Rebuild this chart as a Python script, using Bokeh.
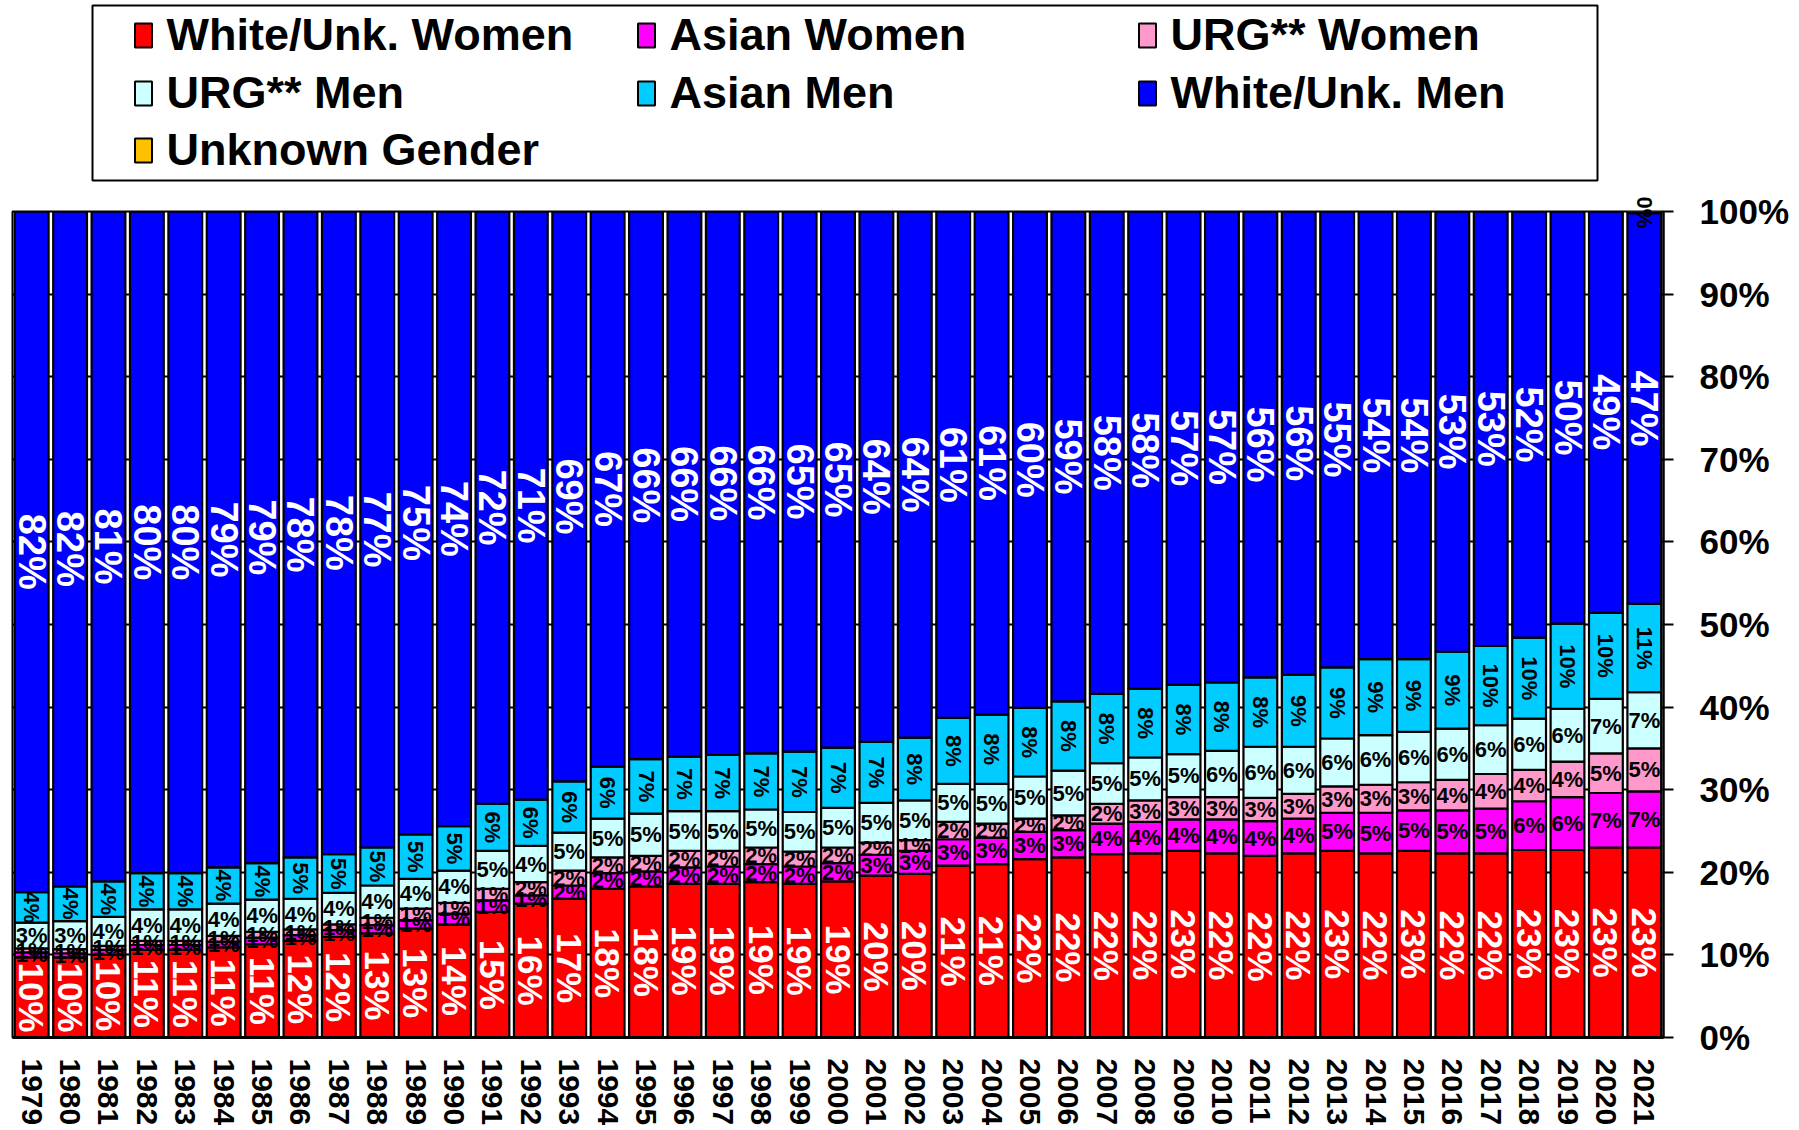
import math
from bokeh.plotting import figure
from bokeh.layouts import column
from bokeh.models import ColumnDataSource, FactorRange, Range1d, FixedTicker, PrintfTickFormatter
from bokeh.core.properties import value
from bokeh.embed import file_html
from bokeh.resources import INLINE

years = [str(y) for y in range(1979, 2022)]

white_unk_women = [9.7, 9.7, 10.0, 10.6, 10.6, 10.9, 11.3, 11.7, 12.2, 12.6, 13.2, 13.7, 15.2, 16.2, 16.8,
                   18.0, 18.3, 18.6, 18.6, 18.8, 18.6, 18.9, 19.6, 19.8, 20.8, 21.0, 21.6, 21.8, 22.2, 22.3,
                   22.6, 22.3, 22.0, 22.3, 22.6, 22.3, 22.6, 22.3, 22.3, 22.7, 22.7, 23.0, 23.0]
asian_women = [0.6, 0.5, 0.6, 0.6, 0.6, 0.7, 0.8, 0.7, 0.8, 1.0, 1.0, 1.3, 1.4, 1.0, 1.6,
               1.9, 1.8, 2.0, 2.1, 2.2, 2.1, 2.2, 2.5, 2.8, 3.2, 3.2, 3.3, 3.3, 3.7, 3.8,
               3.8, 4.1, 4.2, 4.2, 4.6, 4.9, 4.9, 5.2, 5.4, 5.9, 6.4, 6.6, 6.8]
urg_women = [0.5, 0.5, 0.5, 0.5, 0.5, 0.7, 0.7, 0.7, 0.7, 0.9, 1.4, 1.3, 1.4, 1.6, 1.8,
             1.9, 1.9, 2.0, 1.9, 2.0, 1.8, 1.9, 1.5, 1.3, 2.1, 1.7, 1.6, 1.8, 2.4, 2.6,
             2.7, 2.7, 2.8, 3.0, 3.2, 3.4, 3.4, 3.7, 4.2, 3.8, 4.3, 4.8, 5.2]
urg_men = [3.1, 3.4, 3.5, 3.8, 3.8, 3.9, 3.9, 3.7, 3.8, 3.9, 3.6, 3.9, 4.6, 4.4, 4.6,
           4.7, 5.1, 4.8, 4.8, 4.6, 4.8, 4.8, 4.8, 4.8, 4.6, 4.8, 5.1, 5.4, 4.9, 5.2,
           5.2, 5.6, 6.2, 5.7, 5.8, 6.0, 6.1, 6.2, 5.9, 6.2, 6.4, 6.6, 6.8]
asian_men = [3.7, 4.2, 4.3, 4.4, 4.4, 4.4, 4.4, 5.0, 4.7, 4.6, 5.4, 5.4, 5.7, 5.6, 6.2,
             6.3, 6.6, 6.6, 6.8, 6.8, 7.3, 7.3, 7.4, 7.6, 8.0, 8.4, 8.3, 8.4, 8.4, 8.3,
             8.4, 8.3, 8.4, 8.7, 8.6, 9.2, 8.8, 9.3, 9.6, 9.8, 10.3, 10.4, 10.7]
white_unk_men = [82.4, 81.7, 81.1, 80.1, 80.1, 79.4, 78.9, 78.2, 77.8, 77.0, 75.4, 74.4, 71.7, 71.2, 69.0,
                 67.2, 66.3, 66.0, 65.8, 65.6, 65.4, 64.9, 64.2, 63.7, 61.3, 60.9, 60.1, 59.3, 58.4, 57.8,
                 57.3, 57.0, 56.4, 56.1, 55.2, 54.2, 54.2, 53.3, 52.6, 51.6, 49.9, 48.6, 47.3]
unknown_gender = [0.0] * 42 + [0.2]

series_names = ["White/Unk. Women", "Asian Women", "URG** Women", "URG** Men",
                "Asian Men", "White/Unk. Men", "Unknown Gender"]
series_keys = ["ww", "aw", "uw", "um", "am", "wm", "unk"]
series_values = [white_unk_women, asian_women, urg_women, urg_men, asian_men, white_unk_men, unknown_gender]
colors = ["#FF0000", "#FF00FF", "#FF99CC", "#CCFFFF", "#00CCFF", "#0000FF", "#FFC000"]
y_ticks = [0, 10, 20, 30, 40, 50, 60, 70, 80, 90, 100]

FONT = value("Liberation Sans")

# label style per series: (rotated, colour, size)
label_styles = [(True, "white", "35px"), (False, "black", "22px"), (False, "black", "22px"),
                (False, "black", "22px"), (True, "black", "22px"), (True, "white", "38px"),
                (True, "black", "22px")]

# frame geometry (page pixels)
FL, FW = 12, 1651
RB = 132
LH = 185

# ---------------- legend figure ----------------
lf = figure(frame_width=FW, frame_height=LH, x_range=Range1d(FL, FL + FW), y_range=Range1d(LH, 0),
            x_axis_location=None, y_axis_location=None,
            min_border_left=FL, min_border_right=RB, min_border_top=0, min_border_bottom=0,
            output_backend="svg", toolbar_location=None)
lf.grid.grid_line_color = None
lf.outline_line_color = None
lf.quad(left=[92], right=[1597], top=[5], bottom=[180], fill_color="white",
        line_color="black", line_width=2)
col_text_x = [166, 669, 1170]
row_y = [34, 92, 149]
sw_x, sw_y, tx, ty = [], [], [], []
for i, name in enumerate(series_names):
    r, c = divmod(i, 3)
    sw_x.append(col_text_x[c] - 23)
    sw_y.append(row_y[r] + 1)
    tx.append(col_text_x[c])
    ty.append(row_y[r])
lf.rect(x=sw_x, y=sw_y, width=17, height=24, fill_color=colors, line_color="black", line_width=2)
lf.text(x=tx, y=ty, text=series_names, text_align="left", text_baseline="middle",
        text_font=FONT, text_font_style="bold", text_font_size="45px", text_color="black")

# ---------------- main figure ----------------
data = dict(year=years)
for k, v in zip(series_keys, series_values):
    data[k] = v
src = ColumnDataSource(data)

p = figure(x_range=FactorRange(factors=years, range_padding=0), y_range=Range1d(0, 100),
           frame_width=FW, frame_height=826, min_border_left=FL, min_border_right=RB,
           min_border_top=211 - LH, min_border_bottom=88, y_axis_location="right",
           output_backend="svg", toolbar_location=None)

p.vbar_stack(series_keys, x="year", width=0.88, source=src, fill_color=colors,
             line_color="black", line_width=2.2)

bottom = [0.0] * len(years)
for vals, (rot, tcol, tsize) in zip(series_values, label_styles):
    xs, ys, ts = [], [], []
    for i, v in enumerate(vals):
        if v > 0:
            xs.append(years[i])
            ys.append(bottom[i] + v / 2.0)
            ts.append(f"{math.floor(v + 0.5)}%")
        bottom[i] += v
    r = p.text(x=xs, y=ys, text=ts, angle=(-math.pi / 2 if rot else 0),
               text_align="center", text_baseline="middle", text_color=tcol,
               text_font=FONT, text_font_style="bold", text_font_size=tsize)
    r.level = "overlay"

p.xgrid.grid_line_color = None
p.ygrid.ticker = FixedTicker(ticks=y_ticks)
p.ygrid.grid_line_color = "black"
p.ygrid.grid_line_width = 2
p.outline_line_color = "black"
p.outline_line_width = 2

xa = p.xaxis[0]
xa.axis_line_width = 3
xa.axis_line_color = "black"
xa.major_tick_line_color = None
xa.minor_tick_line_color = None
xa.major_label_orientation = -math.pi / 2
xa.major_label_standoff = 15
xa.major_label_text_font = "Liberation Sans"
xa.major_label_text_font_style = "bold"
xa.major_label_text_font_size = "30px"
xa.major_label_text_color = "black"

ya = p.yaxis[0]
ya.ticker = FixedTicker(ticks=y_ticks)
ya.formatter = PrintfTickFormatter(format="%d%%")
ya.axis_line_width = 2
ya.axis_line_color = "black"
ya.major_tick_out = 10
ya.major_tick_in = 0
ya.major_tick_line_width = 2
ya.minor_tick_line_color = None
ya.major_label_standoff = 26
ya.major_label_text_font = "Liberation Sans"
ya.major_label_text_font_style = "bold"
ya.major_label_text_font_size = "35px"
ya.major_label_text_color = "black"

layout = column(lf, p)
open("out.html", "w").write(file_html(layout, INLINE))
